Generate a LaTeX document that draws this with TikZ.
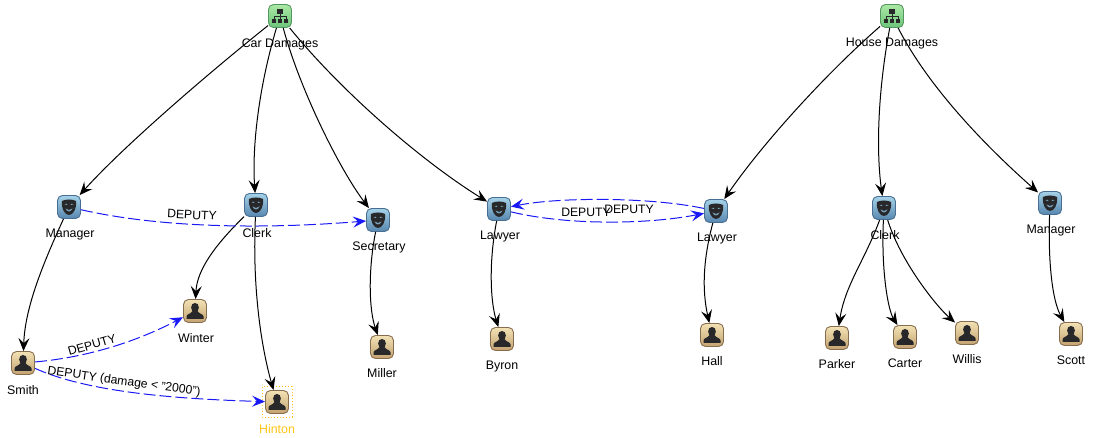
\documentclass[tikz,border=0pt]{standalone}
\usepackage{fontspec}
\setmainfont{Liberation Sans}
\usetikzlibrary{arrows.meta,calc}
\definecolor{depblue}{RGB}{25,25,245}
\definecolor{gold}{RGB}{255,196,20}
\definecolor{icondark}{RGB}{40,40,42}
\definecolor{masktone}{RGB}{120,160,185}
\definecolor{orgtop}{RGB}{170,232,165}
\definecolor{orgbot}{RGB}{108,198,122}
\definecolor{orgline}{RGB}{85,150,95}
\definecolor{roletop}{RGB}{165,210,232}
\definecolor{rolebot}{RGB}{88,135,175}
\definecolor{roleline}{RGB}{72,110,145}
\definecolor{pertop}{RGB}{242,226,180}
\definecolor{perbot}{RGB}{195,162,112}
\definecolor{perline}{RGB}{135,108,78}
\tikzset{
  base/.style={minimum size=23pt,inner sep=0pt,rounded corners=5pt,draw,line width=0.9pt,shading angle=20},
  orgbox/.style={base,draw=orgline,top color=orgtop,bottom color=orgbot},
  rolebox/.style={base,draw=roleline,top color=roletop,bottom color=rolebot},
  personbox/.style={base,draw=perline,top color=pertop,bottom color=perbot},
  lbl/.style={font=\fontsize{12.4}{14}\selectfont,inner sep=0pt,text=black},
  edge/.style={draw=black,line width=1pt,-{Stealth[length=13pt,width=11pt,inset=5pt]}},
  dep/.style={draw=depblue,line width=1pt,dash pattern=on 12pt off 4pt,-{Stealth[length=13pt,width=11pt,inset=5pt]}},
  deplbl/.style={lbl,font=\fontsize{12.2}{14}\selectfont}
}
\newcommand{\orgicon}[1]{\begin{scope}[shift={(#1)},icondark]
  \fill (-3,-7) rectangle (3,-2);
  \draw[line width=1pt] (0,-2) -- (0,1) (-6,4) -- (-6,1) -- (6,1) -- (6,4) (0,1)--(0,4);
  \fill (-8,3) rectangle (-4,7); \fill (-2,3) rectangle (2,7); \fill (4,3) rectangle (8,7);
\end{scope}}
\newcommand{\maskicon}[1]{\begin{scope}[shift={(#1)}]
  \fill[icondark] (-7,-6) .. controls (-3,-8) and (3,-8) .. (7,-6) .. controls (8,2) and (4,8) .. (0,8) .. controls (-4,8) and (-8,2) .. (-7,-6) -- cycle;
  \fill[masktone] (-4.5,-2.5) .. controls (-3,-4) and (-2,-3.5) .. (-1.5,-2) .. controls (-3,-1.5) .. (-4.5,-2.5) -- cycle;
  \fill[masktone] (4.5,-2.5) .. controls (3,-4) and (2,-3.5) .. (1.5,-2) .. controls (3,-1.5) .. (4.5,-2.5) -- cycle;
  \fill[masktone] (-3.5,1.5) .. controls (-1,3.5) and (1,3.5) .. (3.5,1.5) .. controls (2,5.5) and (-2,5.5) .. (-3.5,1.5) -- cycle;
\end{scope}}
\newcommand{\personicon}[1]{\begin{scope}[shift={(#1)}]
  \fill[icondark] (0,-3.5) ellipse (3.9 and 4.6);
  \fill[icondark] (-8.5,8) -- (-8.5,5.5) .. controls (-8.5,3) and (-4,3) .. (-2.5,0) -- (2.5,0) .. controls (4,3) and (8.5,3) .. (8.5,5.5) -- (8.5,8) -- cycle;
\end{scope}}
\begin{document}
\begin{tikzpicture}[x=1pt,y=-1pt]
\useasboundingbox (0,0) rectangle (1093,438);
% icon boxes
\node[orgbox] (car) at (280,16) {};
\node[orgbox] (house) at (892,16) {};
\node[rolebox] (man1) at (69,207) {};
\node[rolebox] (cl1) at (256,205) {};
\node[rolebox] (sec) at (378,220) {};
\node[rolebox] (law1) at (499,209) {};
\node[rolebox] (law2) at (716,211) {};
\node[rolebox] (cl2) at (884,208) {};
\node[rolebox] (man2) at (1050,203) {};
\node[personbox] (smith) at (23,363) {};
\node[personbox] (winter) at (195,311) {};
\node[personbox] (hinton) at (277,402) {};
\node[personbox] (miller) at (382,347) {};
\node[personbox] (byron) at (502,339) {};
\node[personbox] (hall) at (712,335) {};
\node[personbox] (parker) at (837,338) {};
\node[personbox] (carter) at (905,337) {};
\node[personbox] (willis) at (967,333) {};
\node[personbox] (scott) at (1071,334) {};
\foreach \n in {car,house} {\orgicon{\n}}
\foreach \n in {man1,cl1,sec,law1,law2,cl2,man2} {\maskicon{\n}}
\foreach \n in {smith,winter,hinton,miller,byron,hall,parker,carter,willis,scott} {\personicon{\n}}
\draw[gold,line width=1pt,dotted] ($(hinton)+(-15,-15)$) rectangle ($(hinton)+(15,15)$);
% hierarchy edges
\path[edge] (car) .. controls (200,80) and (120,150) .. (man1);
\path[edge] (car) .. controls (258,90) and (252,150) .. (cl1);
\path[edge] (car) .. controls (300,90) and (340,170) .. (sec);
\path[edge] (car) .. controls (340,90) and (420,160) .. (law1);
\path[edge] (house) .. controls (830,70) and (765,140) .. (law2);
\path[edge] (house) .. controls (878,90) and (876,150) .. (cl2);
\path[edge] (house) .. controls (930,90) and (990,150) .. (man2);
\path[edge] (man1) .. controls (40,270) and (25,310) .. (smith);
\path[edge] (cl1) .. controls (215,245) and (197,270) .. (winter);
\path[edge] (cl1) .. controls (252,290) and (262,350) .. (hinton);
\path[edge] (sec) .. controls (368,270) and (369,310) .. (miller);
\path[edge] (law1) .. controls (489,260) and (490,300) .. (byron);
\path[edge] (law2) .. controls (703,260) and (702,290) .. (hall);
\path[edge] (cl2) .. controls (865,260) and (845,285) .. (parker);
\path[edge] (cl2) .. controls (881,270) and (888,310) .. (carter);
\path[edge] (cl2) .. controls (900,260) and (935,305) .. (willis);
\path[edge] (man2) .. controls (1048,260) and (1052,300) .. (scott);
% deputy edges
\path[dep] (man1) .. controls (170,230) and (280,228) .. (sec);
\path[dep] (law1) .. controls (570,226) and (650,224) .. (law2);
\path[dep] (law2) .. controls (650,197) and (560,197) .. (law1);
\path[dep] (smith) .. controls (80,358) and (130,345) .. (winter);
\path[dep] (smith) .. controls (90,393) and (180,399) .. (hinton);
% labels
\node[lbl] (lcar) at (280,44) {Car Damages};
\node[lbl] (lhouse) at (892,44) {House Damages};
\node[lbl] (lman1) at (70,234.5) {Manager};
\node[lbl] (lcl1) at (257,233.5) {Clerk};
\node[lbl] (lsec) at (379,247) {Secretary};
\node[lbl] (llaw1) at (500,236.5) {Lawyer};
\node[lbl] (llaw2) at (717,238.5) {Lawyer};
\node[lbl] (lcl2) at (885,235.5) {Clerk};
\node[lbl] (lman2) at (1051,230.5) {Manager};
\node[lbl] (lsmith) at (23,390.5) {Smith};
\node[lbl] (lwinter) at (196,338.5) {Winter};
\node[lbl,text=gold] (lhinton) at (277,429.5) {Hinton};
\node[lbl] (lmiller) at (382,373.5) {Miller};
\node[lbl] (lbyron) at (502,366.5) {Byron};
\node[lbl] (lhall) at (712,361.5) {Hall};
\node[lbl] (lparker) at (837,364.5) {Parker};
\node[lbl] (lcarter) at (905,363.5) {Carter};
\node[lbl] (lwillis) at (967,359.5) {Willis};
\node[lbl] (lscott) at (1071,360.5) {Scott};
\node[deplbl,rotate=-3] (d1) at (192,215) {DEPUTY};
\node[deplbl] (d2) at (586,212) {DEPUTY};
\node[deplbl] (d3) at (629,209) {DEPUTY};
\node[deplbl,rotate=16] (d4) at (92,345) {DEPUTY};
\node[deplbl,rotate=-8] (d5) at (124,382) {DEPUTY (damage < "2000")};
\end{tikzpicture}
\end{document}
